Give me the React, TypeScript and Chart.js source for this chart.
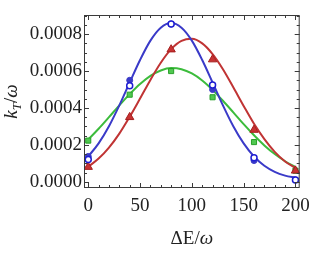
import React, { useEffect, useRef } from "react";
import { Chart, registerables } from "chart.js";

Chart.register(...registerables);

// ---- data ----
const markerX = [0, 40, 80, 120, 160, 200];
const blueFilled = [0.000137, 0.00055, 0.000855, 0.0005, 0.000115, 0.00001];
const blueOpen = [0.00012, 0.00052, 0.000855, 0.000525, 0.00013, 0.00001];
const redTri = [0.00008, 0.00035, 0.000717, 0.000663, 0.000281, 0.00006];
const greenSq = [0.000223, 0.000472, 0.0006, 0.000458, 0.000215, 0.00006];

const curveX = [0, 10, 20, 30, 40, 50, 60, 70, 80, 90, 100, 110, 120, 130, 140, 150, 160, 170, 180, 190, 200];
const blueCurve = [0.000137, 0.000208, 0.000301, 0.000414, 0.000538, 0.00066, 0.000765, 0.000835, 0.00086, 0.000835, 0.000765, 0.00066, 0.000538, 0.000414, 0.000301, 0.000208, 0.000137, 0.0000864, 0.0000534, 0.0000332, 0.0000217];
const redCurve = [0.000081, 0.0001255, 0.000185, 0.000261, 0.000352, 0.000451, 0.000552, 0.000645, 0.000719, 0.000764, 0.000775, 0.00075, 0.000692, 0.00061, 0.000512, 0.000411, 0.000314, 0.000231, 0.000162, 0.00011, 0.000075];
const greenCurve = [0.000229, 0.000287, 0.00035, 0.000414, 0.000475, 0.00053, 0.000574, 0.000603, 0.000616, 0.00061, 0.000587, 0.000549, 0.000498, 0.000439, 0.000376, 0.000312, 0.000252, 0.000197, 0.00015, 0.000111, 0.0000795];

const xTickLabels = [0, 50, 100, 150, 200];
const xMinorTicks = [0, 10, 20, 30, 40, 50, 60, 70, 80, 90, 100, 110, 120, 130, 140, 150, 160, 170, 180, 190, 200];
const yTickLabels = [0, 0.0002, 0.0004, 0.0006, 0.0008];
const yMinorTicks = [0, 0.00005, 0.0001, 0.00015, 0.0002, 0.00025, 0.0003, 0.00035, 0.0004, 0.00045, 0.0005, 0.00055, 0.0006, 0.00065, 0.0007, 0.00075, 0.0008, 0.00085, 0.0009];

const BLUE = "rgb(58,58,200)";
const RED = "rgb(192,52,52)";
const GREEN = "rgb(60,188,60)";
const FRAME = "#3a3a3a";
const FONT = "'Liberation Serif', 'DejaVu Serif', serif";

const pts = (xs: number[], ys: number[]) => xs.map((x, i) => ({ x, y: ys[i] }));

const framePlugin = {
  id: "frameTicks",
  afterDatasetsDraw(chart: any) {
    const { ctx, chartArea: a, scales } = chart;
    const xs = scales.x;
    const ys = scales.y;
    ctx.save();
    ctx.strokeStyle = FRAME;
    ctx.lineWidth = 1;
    ctx.strokeRect(a.left + 0.5, a.top + 0.5, a.right - a.left - 1, a.bottom - a.top - 1);
    ctx.beginPath();
    for (const v of xMinorTicks) {
      const px = Math.round(xs.getPixelForValue(v)) + 0.5;
      const len = xTickLabels.includes(v) ? 5 : 3;
      ctx.moveTo(px, a.bottom);
      ctx.lineTo(px, a.bottom - len);
      ctx.moveTo(px, a.top);
      ctx.lineTo(px, a.top + len);
    }
    for (const v of yMinorTicks) {
      const py = Math.round(ys.getPixelForValue(v)) + 0.5;
      const major = yTickLabels.some((t) => Math.abs(t - v) < 1e-9);
      const len = major ? 5 : 3;
      ctx.moveTo(a.left, py);
      ctx.lineTo(a.left + len, py);
      ctx.moveTo(a.right, py);
      ctx.lineTo(a.right - len, py);
    }
    ctx.stroke();
    ctx.restore();
  },
  afterDraw(chart: any) {
    const { ctx, chartArea: a } = chart;
    ctx.save();
    ctx.fillStyle = "#222";
    ctx.textBaseline = "alphabetic";
    // x title: ΔE/ω
    const reg = `19px ${FONT}`;
    const ita = `italic 19px ${FONT}`;
    const xParts: [string, string, number][] = [
      ["ΔE/", reg, 0],
      ["ω", ita, 0],
    ];
    let total = 0;
    for (const [t, f] of xParts) {
      ctx.font = f;
      total += ctx.measureText(t).width;
    }
    let cx = (a.left + a.right) / 2 - total / 2;
    for (const [t, f] of xParts) {
      ctx.font = f;
      ctx.fillText(t, cx, 244);
      cx += ctx.measureText(t).width;
    }
    // y title: k_T/ω rotated
    const sub = `italic 13px ${FONT}`;
    const yParts: [string, string, number][] = [
      ["k", ita, 0],
      ["T", sub, 4],
      ["/", reg, 0],
      ["ω", ita, 0],
    ];
    total = 0;
    for (const [t, f] of yParts) {
      ctx.font = f;
      total += ctx.measureText(t).width;
    }
    ctx.translate(17, (a.top + a.bottom) / 2);
    ctx.rotate(-Math.PI / 2);
    let lx = -total / 2;
    for (const [t, f, off] of yParts) {
      ctx.font = f;
      ctx.fillText(t, lx, off);
      lx += ctx.measureText(t).width;
    }
    ctx.restore();
  },
};

export default function App() {
  const ref = useRef<HTMLCanvasElement>(null);
  useEffect(() => {
    if (!ref.current) return;
    const chart = new Chart(ref.current, {
      type: "scatter",
      data: {
        datasets: [
          { type: "line", data: pts(curveX, greenCurve), borderColor: GREEN, borderWidth: 2, pointRadius: 0, cubicInterpolationMode: "monotone", order: 12 } as any,
          { type: "line", data: pts(curveX, redCurve), borderColor: RED, borderWidth: 2, pointRadius: 0, cubicInterpolationMode: "monotone", order: 11 } as any,
          { type: "line", data: pts(curveX, blueCurve), borderColor: BLUE, borderWidth: 2, pointRadius: 0, cubicInterpolationMode: "monotone", order: 10 } as any,
          { data: pts(markerX, greenSq), pointStyle: "rect", pointRadius: 3.6, backgroundColor: "rgb(80,200,80)", borderColor: "rgb(40,160,40)", borderWidth: 1, order: 4 },
          { data: pts(markerX, redTri), pointStyle: "triangle", pointRadius: 4.8, backgroundColor: "rgb(200,50,50)", borderColor: "rgb(165,30,30)", borderWidth: 1, order: 3 },
          { data: pts(markerX, blueFilled), pointStyle: "circle", pointRadius: 3, backgroundColor: BLUE, borderColor: BLUE, borderWidth: 1, order: 2 },
          { data: pts(markerX, blueOpen), pointStyle: "circle", pointRadius: 3, backgroundColor: "#fff", borderColor: "rgb(30,30,210)", borderWidth: 1.5, order: 1 },
        ],
      },
      options: {
        animation: false,
        responsive: false,
        events: [],
        layout: { padding: { left: 0, right: 15, top: 15, bottom: 0 } },
        plugins: { legend: { display: false }, tooltip: { enabled: false } },
        scales: {
          x: {
            type: "linear",
            min: -4.1,
            max: 204.1,
            afterBuildTicks: (s: any) => {
              s.ticks = xTickLabels.map((v) => ({ value: v }));
            },
            afterFit: (s: any) => {
              s.height = 65;
            },
            grid: { display: false, drawTicks: false },
            border: { display: false },
            ticks: { padding: 7, color: "#222", font: { family: FONT, size: 19 }, maxRotation: 0 },
          },
          y: {
            type: "linear",
            min: -0.000034,
            max: 0.000904,
            afterBuildTicks: (s: any) => {
              s.ticks = yTickLabels.map((v) => ({ value: v }));
            },
            afterFit: (s: any) => {
              s.width = 84;
            },
            grid: { display: false, drawTicks: false },
            border: { display: false },
            ticks: { padding: 2, color: "#222", font: { family: FONT, size: 19 }, callback: (v: any) => Number(v).toFixed(4) },
          },
        },
      },
      plugins: [framePlugin],
    });
    return () => chart.destroy();
  }, []);
  return (
    <div style={{ position: "fixed", left: 0, top: 0, width: 317, height: 253, background: "#fff" }}>
      <canvas ref={ref} width={317} height={253} />
    </div>
  );
}
